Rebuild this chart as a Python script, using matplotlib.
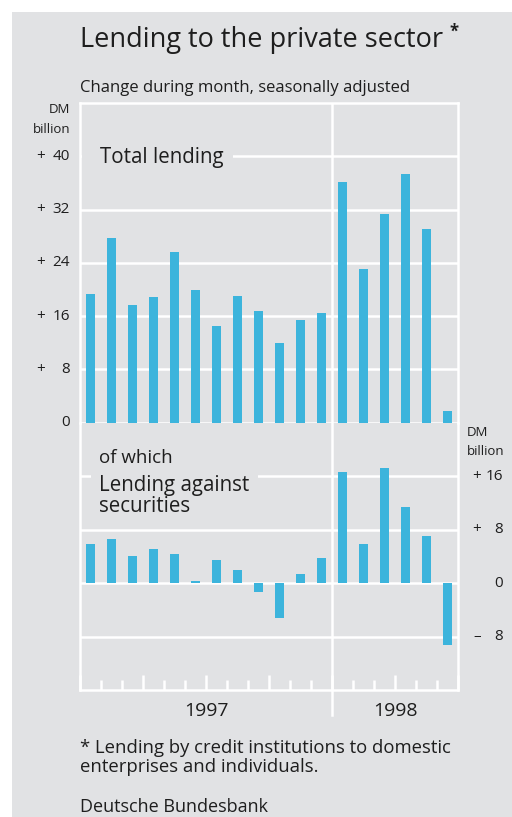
import matplotlib.pyplot as plt
from matplotlib.patches import Rectangle
from matplotlib.lines import Line2D

# data (DM billion, change during month, seasonally adjusted)
months_1997 = 12
months_1998 = 6
total_lending = [19.3, 27.8, 17.6, 18.8, 25.6, 19.9, 14.5, 19.0, 16.7, 12.0, 15.4, 16.4,
                 36.2, 23.1, 31.3, 37.3, 29.1, 1.8]
securities = [5.8, 6.6, 4.1, 5.1, 4.3, 0.3, 3.4, 2.0, -1.3, -5.3, 1.4, 3.7,
              16.6, 5.9, 17.2, 11.4, 7.1, -9.2]
upper_ticks = [0, 8, 16, 24, 32, 40]
upper_labels = [("", "0"), ("+", "8"), ("+", "16"), ("+", "24"), ("+", "32"), ("+", "40")]
lower_ticks = [-8, 0, 8, 16]
lower_labels = [("\u2013", "8"), ("", "0"), ("+", "8"), ("+", "16")]
years = ["1997", "1998"]

BG = "#e1e2e4"
BAR = "#3cb4dc"
TXT = "#1e1e1e"
FONT = "Open Sans"
W, H = 512, 817

plt.rcParams['font.family'] = [FONT, 'DejaVu Sans']

fig = plt.figure(figsize=(W / 100, H / 100), dpi=100)
fig.patch.set_facecolor("white")
fig.patches.append(Rectangle((12 / W, 0), 1, 1 - 12 / H, transform=fig.transFigure,
                             facecolor=BG, edgecolor="none", zorder=-10))


def fx(px):
    return px / W


def fy(py):
    return 1 - py / H


n = months_1997 + months_1998
x = list(range(n))
left, right = 80, 458
top, mid, bottom = 103, 422.7, 690

ax1 = fig.add_axes([fx(left), fy(mid), (right - left) / W, (mid - top) / H])
ax2 = fig.add_axes([fx(left), fy(bottom), (right - left) / W, (bottom - mid) / H])

lw = 1.8
for ax in (ax1, ax2):
    ax.set_facecolor("none")
    ax.set_xlim(-0.5, n - 0.5)
    for s in ax.spines.values():
        s.set_color("white")
        s.set_linewidth(lw)
    ax.set_yticks([])
    ax.set_xticks([])
    ax.axvline(months_1997 - 0.5, color="white", lw=lw, zorder=1)

ax1.set_ylim(0, 48)
ax1.spines['bottom'].set_visible(False)
ax2.set_ylim(-16, 24)
ax2.spines['top'].set_visible(False)

for t in upper_ticks:
    ax1.axhline(t, color="white", lw=lw, zorder=1)
for t in lower_ticks:
    ax2.axhline(t, color="white", lw=lw, zorder=1)

ax1.bar(x, total_lending, width=0.43, color=BAR, zorder=3)
ax2.bar(x, securities, width=0.43, color=BAR, zorder=3)

# month ticks along bottom, longer at quarter boundaries
quarters = [k - 0.5 for k in range(0, n + 1, 3)]
monthb = [k - 0.5 for k in range(0, n + 1)]
ax2.set_xticks(quarters)
ax2.set_xticks(monthb, minor=True)
ax2.tick_params(axis="x", which="major", direction="in", length=10.8, width=lw,
                color="white", labelbottom=False)
ax2.tick_params(axis="x", which="minor", direction="in", length=7.2, width=lw,
                color="white")
# divider extends below the frame
ax2.add_line(Line2D([months_1997 - 0.5] * 2, [-16, -19.8], color="white", lw=lw,
                    clip_on=False))

# label boxes hiding gridlines
ax1.add_patch(Rectangle(((82 - left) / (right - left), 38.5), (233 - 82) / (right - left), 3,
                        transform=ax1.get_yaxis_transform(), facecolor=BG,
                        edgecolor="none", zorder=2))
ax2.add_patch(Rectangle(((91 - left) / (right - left), 14.5), (258 - 91) / (right - left), 3,
                        transform=ax2.get_yaxis_transform(), facecolor=BG,
                        edgecolor="none", zorder=2))

# tick labels
def ylab(ax, ticks, labels, sign_x, num_x):
    for t, (sg, num) in zip(ticks, labels):
        py = fig.transFigure.inverted().transform(ax.transData.transform((0, t)))[1]
        fig.text(fx(sign_x), py, sg, ha="center", va="center", fontsize=11, color=TXT)
        fig.text(fx(num_x), py, num, ha="right", va="center", fontsize=11, color=TXT)


ylab(ax1, upper_ticks, upper_labels, 41, 70)
ylab(ax2, lower_ticks, lower_labels, 477, 503)

fig.text(fx(70), fy(113), "DM", ha="right", va="baseline", fontsize=9.5, color=TXT)
fig.text(fx(70), fy(133), "billion", ha="right", va="baseline", fontsize=9.5, color=TXT)
fig.text(fx(467), fy(436), "DM", ha="left", va="baseline", fontsize=9.5, color=TXT)
fig.text(fx(467), fy(455), "billion", ha="left", va="baseline", fontsize=9.5, color=TXT)

# year labels
for i, yr in enumerate(years):
    start = 0 if i == 0 else months_1997
    end = months_1997 if i == 0 else n
    xc = (start + end - 1) / 2
    ax2.text(xc, -((716 - bottom) / (bottom - mid)), yr, transform=ax2.get_xaxis_transform(),
             ha="center", va="baseline", fontsize=14, color=TXT)

# titles and notes
fig.text(fx(80), fy(47), "Lending to the private sector", fontsize=19.5, color=TXT,
         va="baseline")
fig.text(fx(449), fy(37), "*", fontsize=12, color=TXT, va="baseline", fontweight="bold")
fig.text(fx(80), fy(92), "Change during month, seasonally adjusted", fontsize=12,
         color=TXT, va="baseline")
fig.text(fx(100), fy(163), "Total lending", fontsize=14.8, color=TXT, va="baseline")
fig.text(fx(99), fy(463), "of which", fontsize=13.5, color=TXT, va="baseline")
fig.text(fx(99), fy(490.5), "Lending against", fontsize=14.8, color=TXT, va="baseline")
fig.text(fx(99), fy(511.5), "securities", fontsize=14.8, color=TXT, va="baseline")
fig.text(fx(80), fy(753), "* Lending by credit institutions to domestic", fontsize=13.3,
         color=TXT, va="baseline")
fig.text(fx(80), fy(772), "enterprises and individuals.", fontsize=13.3, color=TXT,
         va="baseline")
fig.text(fx(80), fy(812), "Deutsche Bundesbank", fontsize=13, color=TXT, va="baseline")

fig.savefig("out.png", dpi=100, facecolor=fig.get_facecolor())
